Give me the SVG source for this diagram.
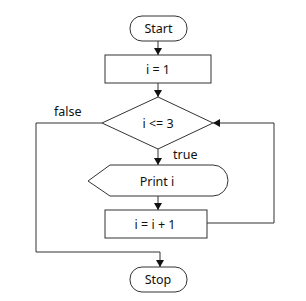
<svg xmlns="http://www.w3.org/2000/svg" width="306" height="301" viewBox="0 0 306 301">
<style>
.s{fill:#fff;stroke:#333;stroke-width:1}
.t{font-family:"Noto Sans","DejaVu Sans",sans-serif;font-size:12.5px;fill:#111;text-anchor:middle}
.l{font-family:"Noto Sans","DejaVu Sans",sans-serif;font-size:12.5px;fill:#111}
.c{fill:none;stroke:#333;stroke-width:1}
</style>
<defs>
<marker id="a" markerWidth="8" markerHeight="8" refX="7" refY="4" orient="auto" markerUnits="userSpaceOnUse">
<path d="M0,0 L7,4 L0,8 Z" fill="#111"/>
</marker>
</defs>
<rect width="306" height="301" fill="#fff"/>
<g id="connectors">
<line class="c" x1="158" y1="41" x2="158" y2="55" marker-end="url(#a)"/>
<line class="c" x1="158" y1="83" x2="158" y2="97" marker-end="url(#a)"/>
<line class="c" x1="158" y1="149" x2="158" y2="165" marker-end="url(#a)"/>
<line class="c" x1="158" y1="196" x2="158" y2="210" marker-end="url(#a)"/>
<polyline class="c" points="102,123 36,123 36,252 160,252 160,267" marker-end="url(#a)"/>
<polyline class="c" points="207,223 274,223 274,123 213,123" marker-end="url(#a)"/>
<text class="l" x="54" y="116">false</text>
<text class="l" x="173" y="159">true</text>
</g>
<g id="start">
<rect class="s" x="130" y="16" width="57" height="25" rx="12" ry="12"/>
<text class="t" x="158.5" y="32.5">Start</text>
</g>
<g id="init">
<rect class="s" x="105" y="55" width="106" height="28"/>
<text class="t" x="158" y="73.5">i = 1</text>
</g>
<g id="cond">
<polygon class="s" points="158,97 213,123 158,149 102,123"/>
<text class="t" x="158" y="127.5">i &lt;= 3</text>
</g>
<g id="print">
<path class="s" d="M88,181 L110,165 L213,165 A15,15.5 0 0 1 213,196 L110,196 Z"/>
<text class="t" x="157" y="185.5">Print i</text>
</g>
<g id="inc">
<rect class="s" x="105" y="210" width="102" height="28"/>
<text class="t" x="155" y="228.5">i = i + 1</text>
</g>
<g id="stop">
<rect class="s" x="130" y="267" width="57" height="25" rx="12" ry="12"/>
<text class="t" x="158" y="284">Stop</text>
</g>
</svg>
